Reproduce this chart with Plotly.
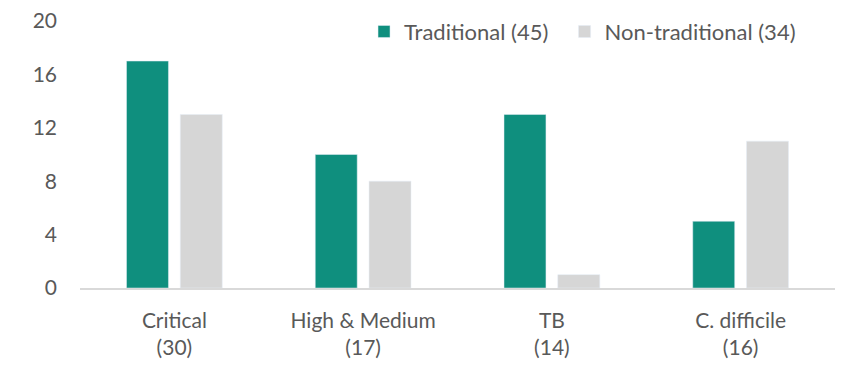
import plotly.graph_objects as go

categories = ["Critical<br>(30)", "High & Medium<br>(17)", "TB<br>(14)", "C. difficile<br>(16)"]
traditional = [17, 10, 13, 5]
non_traditional = [13, 8, 1, 11]
y_ticks = [0, 4, 8, 12, 16, 20]

TEAL = "#0F8F7E"
GRAY = "#D6D6D6"
TEXT = "#595959"
FONT = "Lato, Calibri, 'Open Sans', sans-serif"

fig = go.Figure()
fig.add_trace(go.Bar(x=categories, y=traditional, name="Traditional (45)  ", marker_color=TEAL))
fig.add_trace(go.Bar(x=categories, y=non_traditional, name="Non-traditional (34)", marker_color=GRAY))

fig.update_layout(
    width=861, height=376,
    margin=dict(l=80, r=26, t=21, b=88, autoexpand=False),
    paper_bgcolor="white", plot_bgcolor="white",
    barmode="group", bargap=0.43, bargroupgap=0.22,
    font=dict(family=FONT, size=21, color=TEXT),
    legend=dict(orientation="h", x=0.955, xanchor="right", y=0.96, yanchor="middle",
                font=dict(size=22, color=TEXT), bgcolor="rgba(0,0,0,0)",
                itemwidth=30, traceorder="normal"),
    xaxis=dict(showline=True, linecolor="#D9D9D9", linewidth=1.5, ticks="", showgrid=False,
               ticklabelstandoff=13, tickfont=dict(size=21, color=TEXT)),
    yaxis=dict(range=[0, 20], tickvals=y_ticks, showgrid=False, zeroline=False, showline=False,
               ticks="", ticklabelstandoff=22, tickfont=dict(size=21, color=TEXT)),
)

fig.write_html("out.html")
